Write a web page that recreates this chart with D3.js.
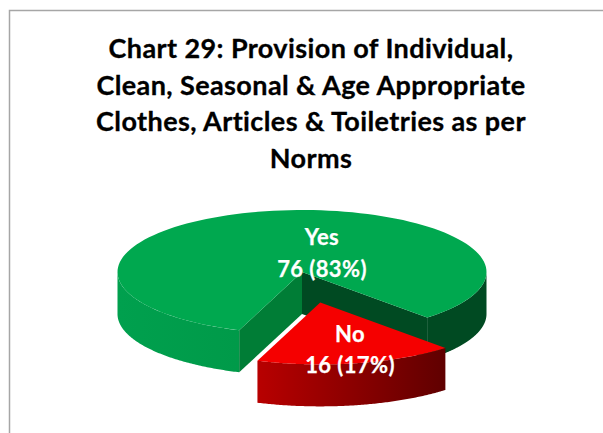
<!DOCTYPE html>
<html><head><meta charset="utf-8">
<script src="https://cdn.jsdelivr.net/npm/d3@7"></script>
<style>html,body{margin:0;padding:0;background:#fff;overflow:hidden}svg{display:block}</style>
</head><body><div id="c"></div>
<script>
const categories = ["Yes", "No"];
const values = [76, 16];
const valueLabels = ["76 (83%)", "16 (17%)"];
const titleLines = ["Chart 29: Provision of Individual,", "Clean, Seasonal & Age Appropriate", "Clothes, Articles & Toiletries as per", "Norms"];

const W = 603, H = 433;
const cx = 302, cy = 272, rx = 184.5, ry = 62, depth = 42, explode = 0.5;
const rad = Math.PI / 180, start = 199.9 * rad;

const svg = d3.select("#c").append("svg").attr("width", W).attr("height", H);
const defs = svg.append("defs");
function grad(id, x1, x2, stops) {
  const g = defs.append("linearGradient").attr("id", id).attr("gradientUnits", "userSpaceOnUse")
    .attr("x1", x1).attr("x2", x2).attr("y1", 0).attr("y2", 0);
  stops.forEach(s => g.append("stop").attr("offset", s[0]).attr("stop-color", s[1]));
}
grad("gl", 118, 238, [[0, "#00a04e"], [1, "#009a49"]]);
grad("gr", 427, 487, [[0, "#004a22"], [1, "#004a22"]]);
grad("rw", 257, 445, [[0, "#b80000"], [1, "#600000"]]);

svg.append("path").attr("d", `M9.5,${H}V10.5H${W}`).attr("fill", "none").attr("stroke", "#a6a6a6").attr("stroke-width", 1.5);

const pie = d3.pie().sort(null).startAngle(start).endAngle(start + 2 * Math.PI);
const arcs = pie(values);
const line = d3.line();
const px = (a, o) => [o.x + rx * Math.sin(a), o.y - ry * Math.cos(a)];
const samples = (a0, a1) => d3.range(0, 121).map(i => a0 + (a1 - a0) * i / 120);

function topFace(a, o) { return line([[o.x, o.y], ...samples(a.startAngle, a.endAngle).map(t => px(t, o))]) + "Z"; }
function wall(a0, a1, o) {
  const up = samples(a0, a1).map(t => px(t, o));
  const down = up.slice().reverse().map(p => [p[0], p[1] + depth]);
  return line([...up, ...down]) + "Z";
}
function face(a, o) {
  const p = px(a, o);
  return line([[o.x, o.y], p, [p[0], p[1] + depth], [o.x, o.y + depth]]) + "Z";
}

const yes = arcs[0], no = arcs[1];
const oY = { x: cx, y: cy };
const mid = (no.startAngle + no.endAngle) / 2;
const oN = { x: cx + rx * explode * Math.sin(mid), y: cy - ry * explode * Math.cos(mid) };
const ta = 2 * Math.PI;

// Yes slice: outer walls, inner cut faces, top
svg.append("path").attr("d", wall(90 * rad, yes.endAngle - ta, oY)).attr("fill", "url(#gr)");
svg.append("path").attr("d", wall(yes.startAngle, 270 * rad, oY)).attr("fill", "url(#gl)");
svg.append("path").attr("d", face(yes.endAngle, oY)).attr("fill", "#004a22");
svg.append("path").attr("d", face(yes.startAngle, oY)).attr("fill", "#007d36");
svg.append("path").attr("d", topFace(yes, oY)).attr("fill", "#00a84f");

// No slice: outer wall, top
svg.append("path").attr("d", wall(no.startAngle, no.endAngle, oN)).attr("fill", "url(#rw)");
svg.append("path").attr("d", topFace(no, oN)).attr("fill", "#f50000");

// Title
const title = svg.append("text").attr("text-anchor", "middle").attr("font-family", "Lato, 'Open Sans', sans-serif")
  .attr("font-weight", 700).attr("font-size", 27).attr("letter-spacing", 0.4).attr("fill", "#000")
  .attr("stroke", "#000").attr("stroke-width", 0.3);
titleLines.forEach((t, i) => title.append("tspan").attr("x", 311).attr("y", 58 + i * 36.7).text(t));

// Labels
const labelPos = [[322, 245, 277], [350, 342, 373]];
categories.forEach((c, i) => {
  const g = svg.append("text").attr("text-anchor", "middle").attr("font-family", "Lato, sans-serif")
    .attr("font-weight", 700).attr("font-size", 22).attr("letter-spacing", 0.4).attr("fill", "#fff")
    .attr("stroke", "#fff").attr("stroke-width", 0.25);
  g.append("tspan").attr("x", labelPos[i][0]).attr("y", labelPos[i][1]).text(c);
  g.append("tspan").attr("x", labelPos[i][0]).attr("y", labelPos[i][2]).text(valueLabels[i]);
});
</script></body></html>
